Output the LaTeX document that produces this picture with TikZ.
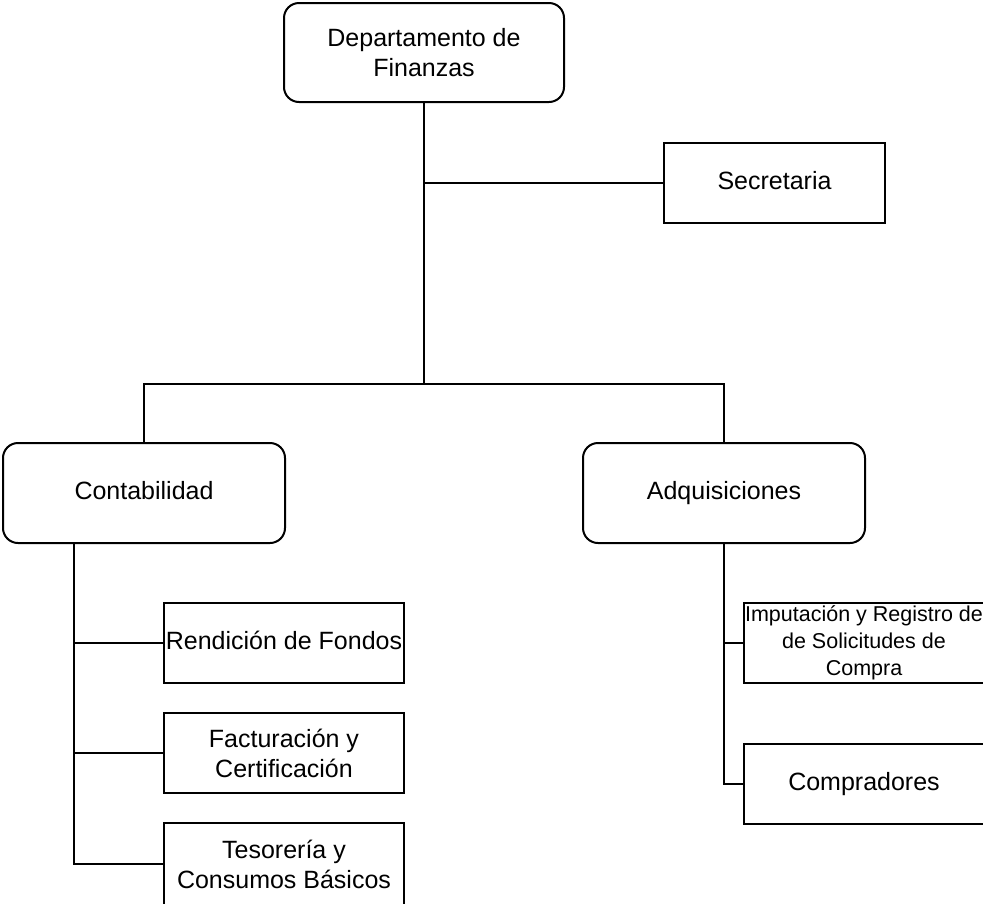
\documentclass[tikz,border=0pt]{standalone}
\usepackage{fontspec}
\setmainfont{Liberation Sans}
\usetikzlibrary{positioning, calc}

\begin{document}
\begin{tikzpicture}[x=1pt, y=-1pt, line width=2pt, block/.style={rectangle,draw,rounded corners=15pt,minimum width=282pt,minimum height=100pt,align=center,font=\fontsize{25}{30}\selectfont}, block2/.style={rectangle,draw,minimum width=240pt,minimum height=80pt,align=center,inner sep=2pt,font=\fontsize{25}{30}\selectfont}, oneline/.style={text height=18pt,text depth=6pt}, node distance = 28pt ]
\useasboundingbox (0,0) rectangle (983,903);
\clip (0,0) rectangle (983,903);
\node (dep) [block, minimum width=280pt, minimum height=99pt] at (424,52.5) {Departamento de\\Finanzas};
\node (sec) [block2, oneline, minimum width=221pt] at (774.5,183) {Secretaria};
\node (cont) [block, oneline] at (144,493) {Contabilidad};
\node (adq) [block, oneline] at (724,493) {Adquisiciones};
\node (ren) [block2, oneline] at (284,643) {Rendición de Fondos};
\node (fac) [block2, below=of ren] {Facturación y\\Certificación};
\node (tes) [block2, below=of fac, minimum height=82pt] {Tesorería y\\Consumos Básicos};
\node (imp) [block2, font=\fontsize{21.5}{27}\selectfont, inner sep=1pt] at (864,643) {Imputación y Registro de\\de Solicitudes de\\Compra};
\node (com) [block2, oneline, below=59pt of imp] {Compradores};
  \begin{scope}
    \coordinate (bar) at ($(dep.south)+(0,281)$);
    \draw [-, black] (dep.south) -- (bar);
    \draw [-, black] (sec.west) -- (sec.west -| dep.south);
    \draw [-, black] (cont.north) |- (bar) -| (adq.north);

    \coordinate (cbus) at ($(cont.south)+(-70,0)$);
    \draw [-, black] (cbus) |- (tes.west);
    \draw [-, black] (ren.west) -- (ren.west -| cbus);
    \draw [-, black] (fac.west) -- (fac.west -| cbus);

    \draw [-, black] (adq.south) |- (com.west);
    \draw [-, black] (imp.west) -- (imp.west -| adq.south);
  \end{scope}
\end{tikzpicture}
\end{document}
